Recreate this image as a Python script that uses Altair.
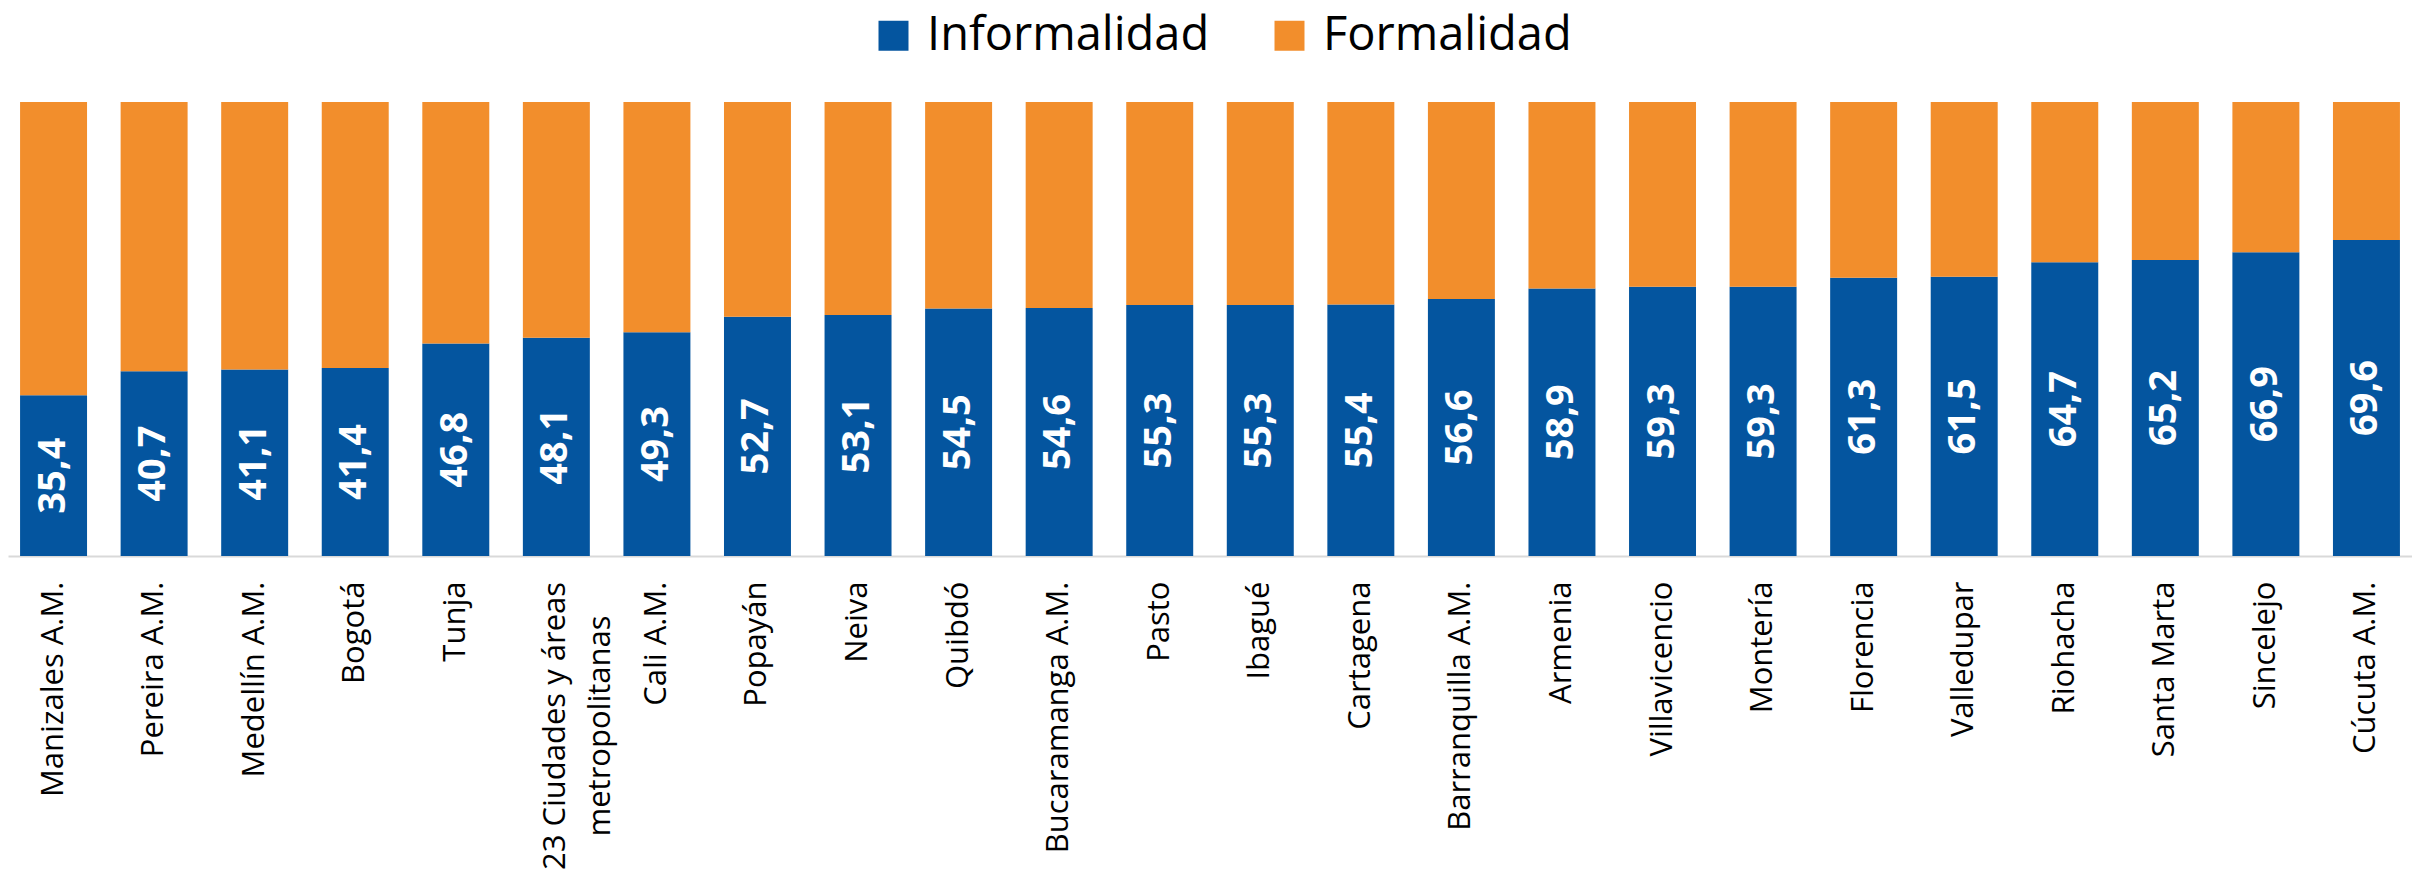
import altair as alt
import pandas as pd

cities = ["Manizales A.M.", "Pereira A.M.", "Medellín A.M.", "Bogotá", "Tunja",
          "23 Ciudades y áreas|metropolitanas", "Cali A.M.", "Popayán", "Neiva", "Quibdó",
          "Bucaramanga A.M.", "Pasto", "Ibagué", "Cartagena", "Barranquilla A.M.",
          "Armenia", "Villavicencio", "Montería", "Florencia", "Valledupar",
          "Riohacha", "Santa Marta", "Sincelejo", "Cúcuta A.M."]
informal = [35.4, 40.7, 41.1, 41.4, 46.8, 48.1, 49.3, 52.7, 53.1, 54.5, 54.6, 55.3,
            55.3, 55.4, 56.6, 58.9, 59.3, 59.3, 61.3, 61.5, 64.7, 65.2, 66.9, 69.6]
formal = [64.6, 59.3, 58.9, 58.6, 53.2, 51.9, 50.7, 47.3, 46.9, 45.5, 45.4, 44.7,
          44.7, 44.6, 43.4, 41.1, 40.7, 40.7, 38.7, 38.5, 35.3, 34.8, 33.1, 30.4]
series = ["Informalidad", "Formalidad"]
colors = ["#04559F", "#F28E2C"]

rows = []
for c, i, f in zip(cities, informal, formal):
    rows.append({"city": c, "serie": "Informalidad", "value": i, "ord": 0,
                 "lab": f"{i:.1f}".replace(".", ",")})
    rows.append({"city": c, "serie": "Formalidad", "value": f, "ord": 1,
                 "lab": f"{f:.1f}".replace(".", ",")})
df = pd.DataFrame(rows)

x_enc = alt.X(
    "city:N", sort=cities,
    scale=alt.Scale(paddingInner=0.334, paddingOuter=0.12),
    axis=alt.Axis(
        title=None, labelAngle=270, ticks=False, tickSize=0,
        domainColor="#d9d9d9", domainWidth=2,
        labelFont="Open Sans", labelFontSize=31, labelColor="#000000",
        labelLimit=1000, labelOverlap=False, labelPadding=25,
        labelExpr="indexof(datum.label, '|') >= 0 ? '' : datum.label",
    ),
)
y_scale = alt.Scale(domain=[0, 100])

base = alt.Chart(df)

bars = base.mark_bar().encode(
    x=x_enc,
    y=alt.Y("value:Q", stack="zero", scale=y_scale, axis=None),
    color=alt.Color(
        "serie:N",
        scale=alt.Scale(domain=series, range=colors),
        legend=alt.Legend(
            title=None, orient="none", legendX=862, legendY=-90,
            direction="horizontal", symbolType="square", symbolSize=900,
            symbolStrokeWidth=0, labelFont="Open Sans", labelFontSize=47,
            labelColor="#000000", labelOffset=10, columnPadding=56,
            labelLimit=1000, padding=0,
        ),
    ),
    order=alt.Order("ord:Q", sort="ascending"),
)

labels = base.transform_filter(
    alt.datum.serie == "Informalidad"
).transform_calculate(
    mid="datum.value / 2"
).mark_text(
    angle=270, color="white", font="Open Sans", fontWeight="bold",
    fontSize=38, align="center", baseline="middle",
).encode(
    x=alt.X("city:N", sort=cities),
    y=alt.Y("mid:Q", scale=y_scale),
    text="lab:N",
)

# two-line category label, centred lines like the original
multi = base.transform_filter(
    "indexof(datum.city, '|') >= 0 && datum.serie == 'Informalidad'"
).mark_text(
    angle=270, color="#000000", font="Open Sans", fontSize=31,
    align="center", baseline="middle", lineBreak="|", lineHeight=45,
).encode(
    x=alt.X("city:N", sort=cities),
    y=alt.value(624),
    text="city:N",
)

chart = alt.layer(bars, labels, multi).properties(
    width=2404, height=454,
    autosize=alt.AutoSizeParams(type="none"),
    padding={"left": 0, "top": 94, "right": 0, "bottom": 315},
).configure_view(stroke=None)

chart.save("out.html", embed_options={"renderer": "svg", "actions": False})
